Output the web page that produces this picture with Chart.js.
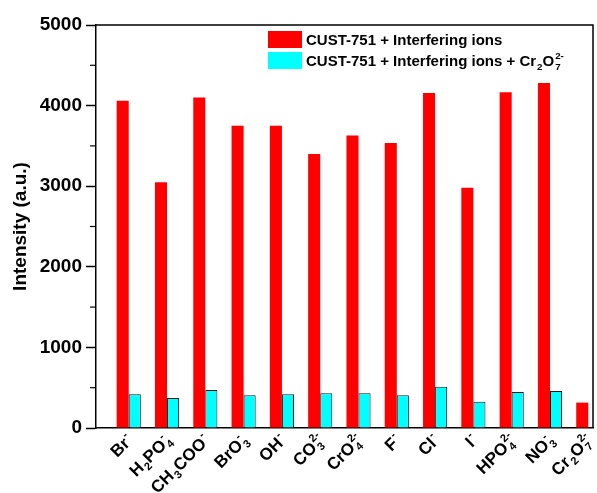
<!DOCTYPE html>
<html>
<head>
<meta charset="utf-8">
<script src="https://cdn.jsdelivr.net/npm/chart.js@4/dist/chart.umd.min.js"></script>
<style>
html, body { margin: 0; padding: 0; background: #fff; }
</style>
</head>
<body>
<canvas id="chart" width="597" height="493"></canvas>
<script>
// ions, markup: _{..} subscript, ^{..} superscript
const ions = ['Br^{-}', 'H_{2}PO_{4}^{-}', 'CH_{3}COO^{-}', 'BrO_{3}^{-}', 'OH^{-}', 'CO_{3}^{2-}',
  'CrO_{4}^{2-}', 'F^{-}', 'Cl^{-}', 'I^{-}', 'HPO_{4}^{2-}', 'NO_{3}^{-}', 'Cr_{2}O_{7}^{2-}']
const withIons = [4060, 3050, 4100, 3750, 3750, 3400, 3630, 3535, 4155, 2980, 4165, 4280, 315]
const withDichromate = [418, 372, 470, 405, 418, 430, 430, 405, 513, 327, 447, 459, null]
const seriesNames = ['CUST-751 + Interfering ions', 'CUST-751 + Interfering ions + Cr_{2}O_{7}^{2-}']
const yMajor = [0, 1000, 2000, 3000, 4000, 5000]
const yMinor = [500, 1500, 2500, 3500, 4500]

const FONT = '"Liberation Sans", Arial, sans-serif'

function parseRich(str) {
  const segs = []
  let buf = '', i = 0
  while (i < str.length) {
    const c = str[i]
    if ((c === '_' || c === '^') && str[i + 1] === '{') {
      if (buf) { segs.push({ t: buf, k: 'n' }); buf = '' }
      const end = str.indexOf('}', i)
      segs.push({ t: str.slice(i + 2, end), k: c === '_' ? 'sub' : 'sup' })
      i = end + 1
    } else { buf += c; i++ }
  }
  if (buf) segs.push({ t: buf, k: 'n' })
  return segs
}

// lay out pieces, a sup right after a sub is stacked above it
function layoutRich(ctx, str, size) {
  const segs = parseRich(str)
  let x = 0, lastSub = null
  const items = []
  segs.forEach(s => {
    const fs = s.k === 'n' ? size : size * 0.65
    const font = 'bold ' + fs + 'px ' + FONT
    ctx.font = font
    const w = ctx.measureText(s.t).width
    let sx = x + (s.k === 'n' ? 0 : 1)
    if (s.k === 'sup' && lastSub) sx = lastSub.x
    const dy = s.k === 'sub' ? size * 0.24 : s.k === 'sup' ? -size * 0.45 : 0
    items.push({ t: s.t, x: sx, dy: dy, font: font })
    x = Math.max(x, sx + w)
    lastSub = s.k === 'sub' ? { x: sx, w: w } : null
  })
  return { items: items, width: x }
}

function drawRich(ctx, str, size, x, y, align) {
  const lay = layoutRich(ctx, str, size)
  const x0 = align === 'right' ? x - lay.width : x
  ctx.textAlign = 'left'
  ctx.textBaseline = 'alphabetic'
  ctx.fillStyle = '#000'
  lay.items.forEach(it => {
    ctx.font = it.font
    ctx.fillText(it.t, x0 + it.x, y + it.dy)
  })
}

const extras = {
  id: 'extras',
  afterDraw(chart) {
    const ctx = chart.ctx
    const area = chart.chartArea
    const xs = chart.scales.x, ys = chart.scales.y
    ctx.save()
    // frame top and right
    ctx.strokeStyle = '#000'
    ctx.lineWidth = 1.5
    ctx.beginPath()
    ctx.moveTo(area.left, area.top)
    ctx.lineTo(area.right, area.top)
    ctx.lineTo(area.right, area.bottom)
    ctx.stroke()
    // minor ticks
    ctx.lineWidth = 1.2
    yMinor.forEach(v => {
      const y = ys.getPixelForValue(v)
      ctx.beginPath()
      ctx.moveTo(area.left - 6, y)
      ctx.lineTo(area.left, y)
      ctx.stroke()
    })
    // rotated category labels
    ions.forEach((lab, i) => {
      const cx = xs.getPixelForValue(i + 1)
      ctx.save()
      ctx.translate(cx + 1, area.bottom + 9)
      ctx.rotate(-Math.PI / 4)
      drawRich(ctx, lab, 17, 0, 6, 'right')
      ctx.restore()
    })
    // legend
    chart.data.datasets.forEach((ds, i) => {
      const top = 31 + i * 21
      ctx.fillStyle = ds.backgroundColor
      ctx.fillRect(268, top, 34, 17)
      drawRich(ctx, seriesNames[i], 15, 306, top + 14, 'left')
    })
    ctx.restore()
  }
}

new Chart(document.getElementById('chart'), {
  type: 'bar',
  data: {
    datasets: [{
      label: seriesNames[0],
      data: withIons.map((v, i) => ({ x: i + 1, y: v })),
      backgroundColor: '#ff0000',
      borderWidth: 0
    }, {
      label: seriesNames[1],
      data: withDichromate.map((v, i) => ({ x: i + 1, y: v })),
      backgroundColor: '#00ffff',
      borderColor: '#1a1a1a',
      borderWidth: 1
    }]
  },
  options: {
    responsive: false,
    animation: false,
    layout: { padding: { top: 25, right: 4, bottom: 0, left: 0 } },
    categoryPercentage: 0.63,
    barPercentage: 1,
    plugins: { legend: { display: false }, tooltip: { enabled: false } },
    scales: {
      x: {
        type: 'linear',
        min: 0.145,
        max: 13.123,
        offset: false,
        afterFit: s => { s.height = 65 },
        afterBuildTicks: s => { s.ticks = ions.map((_, i) => ({ value: i + 1 })) },
        ticks: { display: false },
        grid: { display: false },
        border: { display: true, color: '#000', width: 1.5 }
      },
      y: {
        min: 0,
        max: 5000,
        afterFit: s => { s.width = 96 },
        afterBuildTicks: s => { s.ticks = yMajor.map(v => ({ value: v })) },
        ticks: {
          color: '#000',
          padding: 4,
          font: { family: FONT, size: 19, weight: 'bold' },
          callback: v => String(v)
        },
        grid: { drawOnChartArea: false, drawTicks: true, tickLength: 10, color: '#000', tickWidth: 1.5 },
        border: { display: true, color: '#000', width: 1.5 },
        title: {
          display: true,
          text: 'Intensity (a.u.)',
          color: '#000',
          padding: { top: 9, bottom: 0 },
          font: { family: FONT, size: 19, weight: 'bold' }
        }
      }
    }
  },
  plugins: [extras]
})
</script>
</body>
</html>
